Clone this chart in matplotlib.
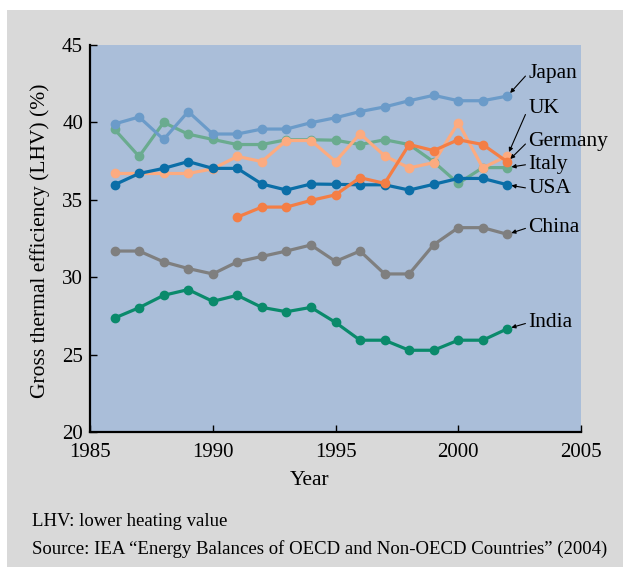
import matplotlib
matplotlib.use("Agg")
import matplotlib.pyplot as plt
from matplotlib.patches import Rectangle

plt.rcParams['font.family'] = ['Liberation Serif', 'DejaVu Serif']

years_all = list(range(1986, 2003))
years_de = list(range(1991, 2003))

japan = [39.9, 40.35, 38.9, 40.7, 39.25, 39.25, 39.57, 39.57, 39.98, 40.3, 40.7, 41.0, 41.4, 41.75, 41.4, 41.4, 41.7]
uk = [36.7, 36.7, 36.7, 36.7, 37.0, 37.8, 37.47, 38.83, 38.83, 37.47, 39.27, 37.84, 37.06, 37.4, 39.98, 37.06, 37.84]
germany = [33.88, 34.53, 34.53, 34.96, 35.32, 36.43, 36.06, 38.57, 38.18, 38.88, 38.57, 37.45]
italy = [39.55, 37.8, 40.0, 39.24, 38.9, 38.57, 38.57, 38.88, 38.88, 38.85, 38.57, 38.88, 38.57, 37.45, 36.06, 37.08, 37.08]
usa = [35.97, 36.7, 37.03, 37.47, 37.03, 37.03, 36.02, 35.63, 36.02, 36.0, 35.97, 35.97, 35.63, 36.0, 36.38, 36.38, 35.97]
china = [31.69, 31.69, 30.99, 30.56, 30.21, 30.99, 31.34, 31.69, 32.08, 31.02, 31.69, 30.21, 30.21, 32.1, 33.2, 33.2, 32.77]
india = [27.36, 28.03, 28.83, 29.2, 28.44, 28.83, 28.05, 27.77, 28.05, 27.08, 25.93, 25.93, 25.28, 25.28, 25.93, 25.93, 26.67]

series = [
    ("Japan", years_all, japan, "#6b9bc9", 43.19),
    ("UK", years_all, uk, "#fcab80", 40.92),
    ("Germany", years_de, germany, "#f47e45", 38.78),
    ("Italy", years_all, italy, "#6aab8f", 37.29),
    ("USA", years_all, usa, "#0b6ea7", 35.74),
    ("China", years_all, china, "#7f7f7f", 33.21),
    ("India", years_all, india, "#0a8a6b", 27.06),
]
draw_order = ["China", "India", "Italy", "Japan", "UK", "USA", "Germany"]

x_ticks = [1985, 1990, 1995, 2000, 2005]
y_ticks = [20, 25, 30, 35, 40, 45]

fig = plt.figure(figsize=(6.23, 5.70), dpi=100, facecolor="#d9d9d9")
# white margins at top/left/bottom
fig.patches.append(Rectangle((0, 1 - 10 / 570), 1, 10 / 570, transform=fig.transFigure,
                             facecolor="white", edgecolor="none", zorder=0))
fig.patches.append(Rectangle((0, 0), 7 / 623, 1, transform=fig.transFigure,
                             facecolor="white", edgecolor="none", zorder=0))
fig.patches.append(Rectangle((0, 0), 1, 3 / 570, transform=fig.transFigure,
                             facecolor="white", edgecolor="none", zorder=0))

ax = fig.add_axes([90 / 623, 1 - 432 / 570, 491 / 623, 387 / 570])
ax.set_facecolor("#aabed9")

lookup = {s[0]: s for s in series}
for name in draw_order:
    n, xs, ys, c, ly = lookup[name]
    ax.plot(xs, ys, color=c, lw=2.3, marker="o", ms=6, zorder=3)

for n, xs, ys, c, ly in series:
    ax.annotate(n, xy=(xs[-1], ys[-1]), xytext=(2002.85, ly),
                ha="left", va="center", fontsize=15.5, annotation_clip=False,
                arrowprops=dict(arrowstyle="-|>", color="black", lw=0.8,
                                mutation_scale=6, shrinkA=0, shrinkB=3,
                                relpos=(0, 0.5)), zorder=5)

ax.set_xlim(1985, 2005)
ax.set_ylim(20, 45)
ax.set_xticks(x_ticks)
ax.set_yticks(y_ticks)
ax.tick_params(direction="in", length=5, width=1, labelsize=15, colors="black")
ax.tick_params(axis="x", pad=8)
ax.tick_params(axis="y", pad=5)
for s in ["top", "right"]:
    ax.spines[s].set_visible(False)
for s in ["left", "bottom"]:
    ax.spines[s].set_linewidth(1.6)
ax.set_xlabel("Year", fontsize=15.5)
ax.xaxis.set_label_coords(0.448, -0.102)
ax.set_ylabel("Gross thermal efficiency (LHV) (%)", fontsize=15.5)
ax.yaxis.set_label_coords(-0.082, 0.495)

fig.text(32 / 623, 1 - 521 / 570, "LHV: lower heating value", fontsize=13.5, va="center", ha="left")
fig.text(32 / 623, 1 - 549 / 570,
         "Source: IEA \u201cEnergy Balances of OECD and Non-OECD Countries\u201d (2004)",
         fontsize=13.5, va="center", ha="left")

fig.savefig("out.png", dpi=100, facecolor=fig.get_facecolor())
